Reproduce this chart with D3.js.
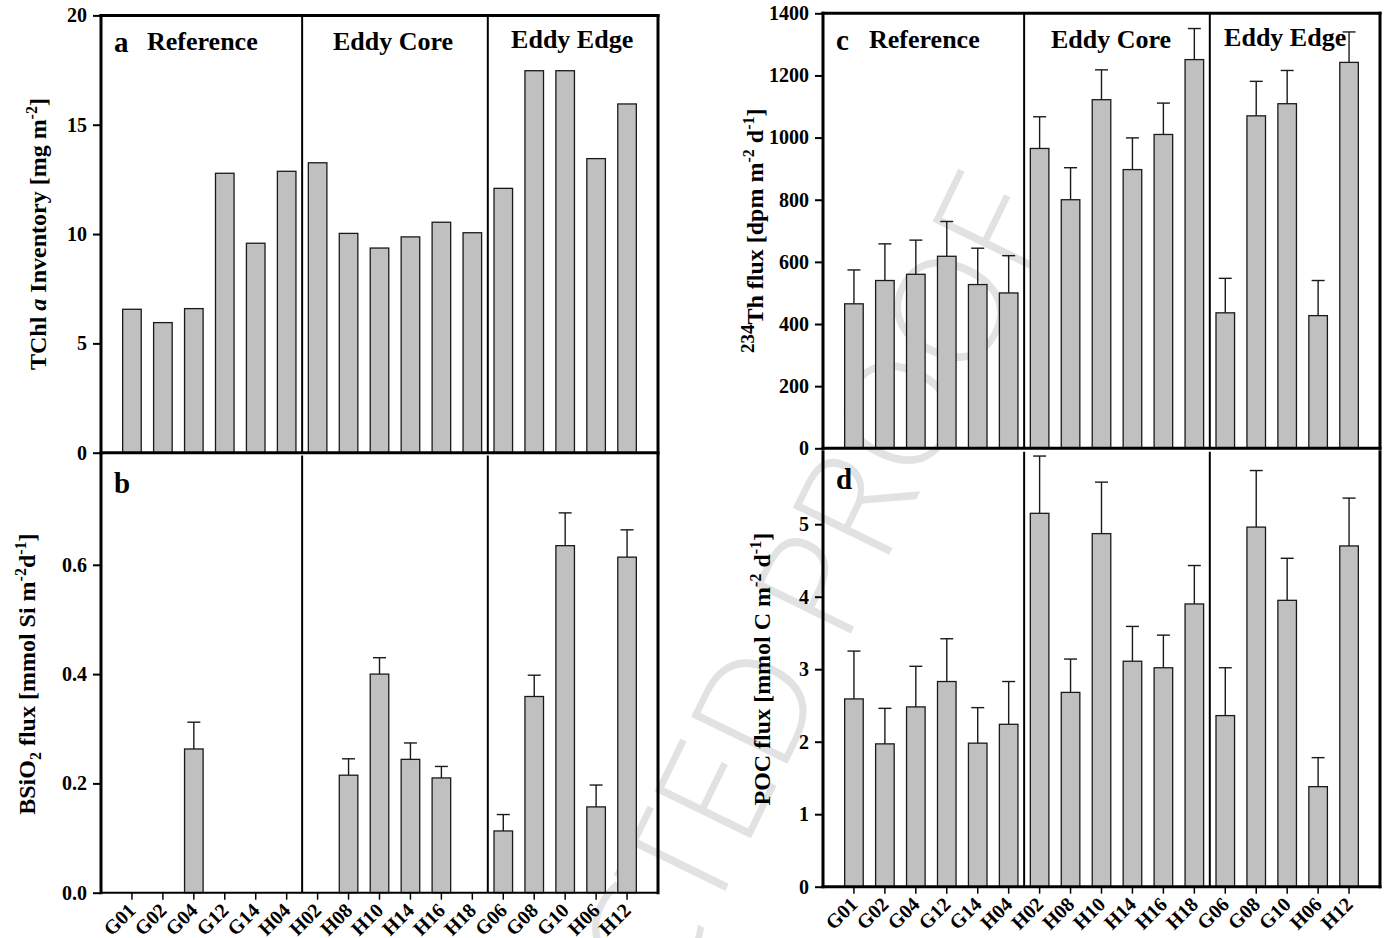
<!DOCTYPE html>
<html>
<head>
<meta charset="utf-8">
<script src="https://cdn.jsdelivr.net/npm/d3@7"></script>
<style>
  body { margin: 0; background: #fff; }
  svg { display: block; font-family: "Liberation Serif", "Times New Roman", serif; }
  .bar { fill: #c0c0c0; stroke: #1a1a1a; stroke-width: 1.3; }
  .err { stroke: #1a1a1a; stroke-width: 1.4; fill: none; }
  .tick-label { font-size: 20px; font-weight: bold; }
  .x-label { font-size: 20px; font-weight: bold; }
  .group-title { font-size: 26px; font-weight: bold; }
  .panel-letter { font-size: 29px; font-weight: bold; }
  .y-title { font-size: 24px; font-weight: bold; }
</style>
</head>
<body>
<div id="chart"></div>
<script>
// stations, in plotting order
var stations = ["G01", "G02", "G04", "G12", "G14", "H04",
                "H02", "H08", "H10", "H14", "H16", "H18",
                "G06", "G08", "G10", "H06", "H12"];
var groupNames = ["Reference", "Eddy Core", "Eddy Edge"];
var groupSizes = [6, 6, 5];

// a: TChl a inventory (mg m-2)
var tchl = [6.56, 5.95, 6.59, 12.78, 9.58, 12.87,
            13.26, 10.03, 9.36, 9.87, 10.54, 10.06,
            12.09, 17.47, 17.47, 13.45, 15.95];

// b: BSiO2 flux (mmol Si m-2 d-1), null = not measured
var bsio2 = [null, null, 0.263, null, null, null,
             null, 0.215, 0.400, 0.244, 0.210, null,
             0.113, 0.359, 0.635, 0.157, 0.614];
var bsio2Err = [null, null, 0.049, null, null, null,
                null, 0.030, 0.030, 0.030, 0.021, null,
                0.030, 0.039, 0.060, 0.040, 0.050];

// c: 234Th flux (dpm m-2 d-1)
var thFlux = [465, 540, 560, 618, 527, 500,
              965, 800, 1122, 897, 1010, 1251,
              436, 1070, 1109, 427, 1242];
var thErr = [109, 118, 110, 112, 117, 120,
             102, 103, 96, 102, 101, 100,
             111, 111, 107, 113, 98];

// d: POC flux (mmol C m-2 d-1)
var pocFlux = [2.59, 1.97, 2.48, 2.83, 1.98, 2.24,
               5.15, 2.68, 4.87, 3.11, 3.02, 3.90,
               2.36, 4.96, 3.95, 1.38, 4.70];
var pocErr = [0.66, 0.49, 0.56, 0.59, 0.49, 0.59,
              0.79, 0.46, 0.71, 0.48, 0.45, 0.53,
              0.66, 0.78, 0.58, 0.40, 0.66];

var tchlTicks = [0, 5, 10, 15, 20];
var bsio2Ticks = [0, 0.2, 0.4, 0.6];
var thTicks = [0, 200, 400, 600, 800, 1000, 1200, 1400];
var pocTicks = [0, 1, 2, 3, 4, 5];

var width = 1392, height = 938;
var svg = d3.select("#chart").append("svg")
    .attr("width", width)
    .attr("height", height);

// watermark sits under everything
svg.append("text")
    .attr("transform", "translate(712,918) rotate(-64)")
    .attr("text-anchor", "middle")
    .style("font-family", "'Open Sans', Lato, sans-serif")
    .style("font-weight", 300)
    .style("font-size", "150px")
    .style("fill", "#e2e2e2")
    .text("UNCORRECTED PROOF");

var leftCol = {x0: 101, x1: 658};
var rightCol = {x0: 823, x1: 1380};

function makeX(col) {
    return d3.scalePoint().domain(stations).range([col.x0, col.x1]).padding(1);
}

function drawPanel(cfg) {
    var x = makeX(cfg.col);
    var y = d3.scaleLinear().domain(cfg.domain).range([cfg.yZero, cfg.yTop]);
    var g = svg.append("g").classed("panel", true);
    var barW = x.step() * 0.6;

    var data = stations.map(function(s, i) {
        return {name: s, value: cfg.values[i], err: cfg.errors ? cfg.errors[i] : null};
    });

    // error whiskers (upper only)
    var withErr = data.filter(function(d) { return d.value != null && d.err != null; });
    g.selectAll(".err-line").data(withErr).enter().append("line")
        .attr("class", "err")
        .attr("x1", function(d) { return x(d.name); })
        .attr("x2", function(d) { return x(d.name); })
        .attr("y1", function(d) { return y(d.value); })
        .attr("y2", function(d) { return y(d.value + d.err); });
    g.selectAll(".err-cap").data(withErr).enter().append("line")
        .attr("class", "err")
        .attr("x1", function(d) { return x(d.name) - 6.5; })
        .attr("x2", function(d) { return x(d.name) + 6.5; })
        .attr("y1", function(d) { return y(d.value + d.err); })
        .attr("y2", function(d) { return y(d.value + d.err); });

    g.selectAll(".bar").data(data.filter(function(d) { return d.value != null; }))
        .enter().append("rect")
        .attr("class", "bar")
        .attr("x", function(d) { return x(d.name) - barW / 2; })
        .attr("width", barW)
        .attr("y", function(d) { return y(d.value); })
        .attr("height", function(d) { return y(0) - y(d.value); });

    // group dividers
    var edges = [groupSizes[0] - 1, groupSizes[0] + groupSizes[1] - 1];
    edges.forEach(function(i) {
        var xm = (x(stations[i]) + x(stations[i + 1])) / 2;
        g.append("line")
            .attr("x1", xm).attr("x2", xm)
            .attr("y1", cfg.yTop).attr("y2", cfg.yZero)
            .style("stroke", "#000").style("stroke-width", 2);
    });

    // frame
    var line = function(x1, y1, x2, y2, w) {
        g.append("line")
            .attr("x1", x1).attr("y1", y1).attr("x2", x2).attr("y2", y2)
            .style("stroke", "#000").style("stroke-width", w)
            .style("stroke-linecap", "square");
    };
    line(cfg.col.x0, cfg.yTop, cfg.col.x0, cfg.yZero, 3);
    line(cfg.col.x1, cfg.yTop, cfg.col.x1, cfg.yZero, 3);
    if (cfg.topBorder) line(cfg.col.x0, cfg.yTop, cfg.col.x1, cfg.yTop, 3);
    line(cfg.col.x0, cfg.yZero, cfg.col.x1, cfg.yZero, cfg.bottomWidth || 3);

    // y axis ticks and labels
    var yAxis = d3.axisLeft(y).tickValues(cfg.ticks).tickSize(7).tickPadding(6)
        .tickFormat(d3.format(cfg.fmt));
    var ya = g.append("g").attr("transform", "translate(" + (cfg.col.x0 - 1) + ",0)").call(yAxis);
    ya.attr("font-family", null).attr("font-size", null);
    ya.select(".domain").remove();
    ya.selectAll(".tick line").style("stroke", "#000").style("stroke-width", 2);
    ya.selectAll(".tick text").attr("class", "tick-label").attr("fill", "#000")
        .style("font-family", "'Liberation Serif', serif");

    // x axis labels on bottom panels
    if (cfg.xLabels) {
        var xa = g.append("g").classed("x-axis", true);
        xa.selectAll("line").data(stations).enter().append("line")
            .attr("x1", function(d) { return x(d); })
            .attr("x2", function(d) { return x(d); })
            .attr("y1", cfg.yZero).attr("y2", cfg.yZero + 7)
            .style("stroke", "#000").style("stroke-width", 1.5);
        xa.selectAll("text").data(stations).enter().append("text")
            .attr("class", "x-label")
            .attr("text-anchor", "end")
            .attr("transform", function(d) {
                return "translate(" + (x(d) + 5) + "," + (cfg.yZero + 19) + ") rotate(-45)";
            })
            .text(function(d) { return d; });
    }

    // panel letter and group titles
    g.append("text").attr("class", "panel-letter")
        .attr("x", cfg.col.x0 + 13).attr("y", cfg.yTop + 37)
        .text(cfg.letter);
    if (cfg.groupTitles) {
        var start = 0;
        groupNames.forEach(function(name, k) {
            var first = x(stations[start]);
            var last = x(stations[start + groupSizes[k] - 1]);
            var t = g.append("text").attr("class", "group-title");
            if (k === 0) {
                t.attr("x", cfg.col.x0 + 46).attr("text-anchor", "start");
            } else {
                t.attr("x", (first + last) / 2 + cfg.titleShift[k]).attr("text-anchor", "middle");
            }
            t.attr("y", cfg.yTop + (k === 2 ? 33 : 35)).text(name);
            start += groupSizes[k];
        });
    }

    // y title built from pieces (sup/sub/italic)
    var yt = g.append("text").attr("class", "y-title")
        .attr("text-anchor", "middle")
        .attr("transform", "translate(" + cfg.titleX + "," + ((cfg.yTop + cfg.yZero) / 2) + ") rotate(-90)");
    cfg.title.forEach(function(p) {
        var ts = yt.append("tspan").text(p.t);
        if (p.sup) ts.attr("dy", -9).style("font-size", (p.size || 16) + "px");
        if (p.sub) ts.attr("dy", 6).style("font-size", "16px");
        if (p.it) ts.style("font-style", "italic");
        if (p.back) ts.attr("dy", p.back);
    });
}

drawPanel({
    col: leftCol, values: tchl, domain: [0, 20], yTop: 15.4, yZero: 452.7,
    ticks: tchlTicks, fmt: "d", letter: "a", topBorder: true, groupTitles: true,
    titleShift: [0, -2, 7], titleX: 46,
    title: [{t: "TChl "}, {t: "a", it: true}, {t: " Inventory [mg m"}, {t: "-2", sup: true}, {t: "]", back: 9}]
});

drawPanel({
    col: leftCol, values: bsio2, errors: bsio2Err, domain: [0, 0.8], yTop: 455.5, yZero: 892.7,
    ticks: bsio2Ticks, fmt: ".1f", letter: "b", bottomWidth: 2, xLabels: true,
    titleX: 35,
    title: [{t: "BSiO"}, {t: "2", sub: true}, {t: " flux [mmol Si m", back: -6}, {t: "-2", sup: true},
            {t: "d", back: 9}, {t: "-1", sup: true}, {t: "]", back: 9}]
});

drawPanel({
    col: rightCol, values: thFlux, errors: thErr, domain: [0, 1400], yTop: 13.3, yZero: 448.3,
    ticks: thTicks, fmt: "d", letter: "c", topBorder: true, groupTitles: true,
    titleShift: [0, -6, -2], titleX: 763,
    title: [{t: "234", sup: true, size: 19}, {t: "Th flux [dpm m", back: 9}, {t: "-2", sup: true},
            {t: " d", back: 9}, {t: "-1", sup: true}, {t: "]", back: 9}]
});

drawPanel({
    col: rightCol, values: pocFlux, errors: pocErr, domain: [0, 6], yTop: 451.7, yZero: 886.7,
    ticks: pocTicks, fmt: "d", letter: "d", xLabels: true,
    titleX: 770,
    title: [{t: "POC flux [mmol C m"}, {t: "-2", sup: true}, {t: " d", back: 9}, {t: "-1", sup: true}, {t: "]", back: 9}]
});
</script>
</body>
</html>
